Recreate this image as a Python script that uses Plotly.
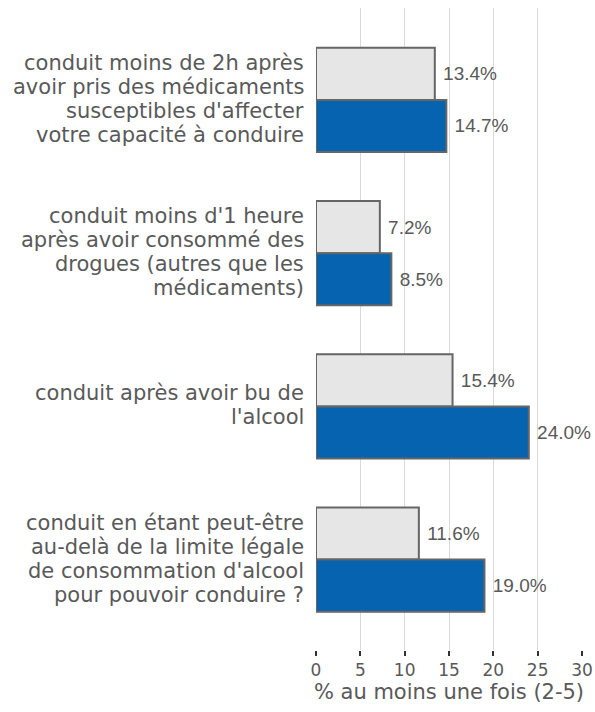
import plotly.graph_objects as go

categories = [
    "conduit moins de 2h après<br>avoir pris des médicaments<br>susceptibles d'affecter<br>votre capacité à conduire",
    "conduit moins d'1 heure<br>après avoir consommé des<br>drogues (autres que les<br>médicaments)",
    "conduit après avoir bu de<br>l'alcool",
    "conduit en étant peut-être<br>au-delà de la limite légale<br>de consommation d'alcool<br>pour pouvoir conduire ?",
]
series_gray = [13.4, 7.2, 15.4, 11.6]
series_blue = [14.7, 8.5, 24.0, 19.0]
x_ticks = [0, 5, 10, 15, 20, 25, 30]

text_color = "#595959"
label_font = dict(family="Liberation Sans, Arial", size=19, color=text_color)

fig = go.Figure()
fig.add_trace(go.Bar(
    y=categories, x=series_gray, orientation="h", name="A",
    marker=dict(color="#e6e6e6", line=dict(color="#666666", width=2)),
    texttemplate=" %{x:.1f}%", textposition="outside",
    textfont=label_font, cliponaxis=False,
))
fig.add_trace(go.Bar(
    y=categories, x=series_blue, orientation="h", name="B",
    marker=dict(color="#0563b0", line=dict(color="#666666", width=2)),
    texttemplate=" %{x:.1f}%", textposition="outside",
    textfont=label_font, cliponaxis=False,
))

# category labels drawn line by line (tighter line spacing than plotly's default)
line_gap = 24
for cat in categories:
    lines = cat.split("<br>")
    n = len(lines)
    for i, ln in enumerate(lines):
        fig.add_annotation(
            x=0, xref="paper", y=cat, yref="y",
            text=ln, showarrow=False,
            xanchor="right", yanchor="middle", xshift=-10,
            yshift=((n - 1) / 2 - i) * line_gap + 1,
            font=dict(family="DejaVu Sans", size=21, color=text_color),
        )

fig.update_layout(
    width=595, height=712,
    barmode="group", bargap=0.32, bargroupgap=0,
    showlegend=False,
    plot_bgcolor="white", paper_bgcolor="white",
    margin=dict(l=316, r=13, t=8, b=62),
    font=dict(family="DejaVu Sans", color=text_color),
    xaxis=dict(
        range=[0, 30], tickvals=x_ticks, showgrid=True, gridcolor="#d9d9d9", gridwidth=1,
        zeroline=False, showline=False, ticks="outside", ticklen=5, tickwidth=2, tickcolor="#333333",
        tickfont=dict(size=17, color=text_color), automargin=False,
        title=dict(text="% au moins une fois (2-5)", font=dict(size=21, color=text_color), standoff=3),
    ),
    yaxis=dict(
        range=[3.59, -0.6], showgrid=False, zeroline=False, showline=False, ticks="",
        showticklabels=False, automargin=False,
    ),
)

fig.write_html("out.html", config={"displayModeBar": False},
               post_script="document.body.style.margin='0';")
